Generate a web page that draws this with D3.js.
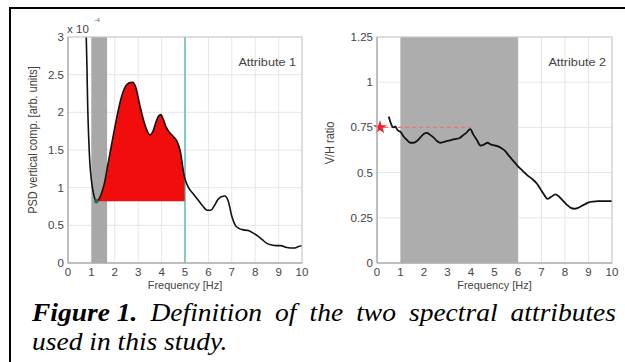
<!DOCTYPE html>
<html><head><meta charset="utf-8">
<script src="https://cdn.jsdelivr.net/npm/d3@7"></script>
<style>
html,body{margin:0;padding:0;background:#fff;}
svg{display:block;}
text.chart{font-family:"Liberation Sans",Arial,sans-serif;}
text.cap{font-family:"Liberation Serif","Times New Roman",serif;font-style:italic;}
</style></head>
<body>
<svg id="c" width="625" height="362"></svg>
<script>
// ---------- data ----------
const xTicks = [0,1,2,3,4,5,6,7,8,9,10];
const psdTicks = [0,0.5,1,1.5,2,2.5,3];
const vhTicks = [0,0.25,0.5,0.75,1,1.25];

const psdFreq = [0.74,0.78,0.81,0.84,0.88,0.93,1.0,1.07,1.14,1.21,1.3,1.4,1.55,1.7,1.85,2.0,2.15,2.3,2.45,2.6,2.75,2.9,3.05,3.2,3.35,3.5,3.62,3.75,3.87,3.97,4.08,4.2,4.35,4.5,4.65,4.8,4.97,5.15,5.35,5.55,5.75,5.95,6.1,6.25,6.4,6.55,6.7,6.85,7.0,7.15,7.3,7.5,7.7,7.9,8.1,8.3,8.5,8.7,8.9,9.1,9.3,9.5,9.7,9.85,10.0];
const psdValue = [3.4,3.0,2.6,2.1,1.7,1.35,1.1,0.95,0.86,0.82,0.84,0.9,1.05,1.3,1.55,1.8,2.03,2.22,2.34,2.39,2.40,2.33,2.12,1.93,1.78,1.70,1.74,1.86,1.95,1.97,1.90,1.80,1.73,1.68,1.62,1.48,1.15,1.0,0.92,0.84,0.76,0.70,0.70,0.76,0.84,0.88,0.89,0.82,0.62,0.50,0.46,0.44,0.43,0.40,0.36,0.31,0.26,0.24,0.23,0.23,0.21,0.20,0.20,0.22,0.23];
const psdBand = [1.0, 1.67];       // grey band, Hz
const psdMin = [1.21, 0.82];       // minimum point (freq, value)
const psdUpper = 5;                // upper frequency (cyan line)

const vhFreq = [0.5,0.57,0.63,0.7,0.78,0.85,0.92,1.0,1.13,1.28,1.42,1.55,1.7,1.85,2.0,2.13,2.25,2.4,2.55,2.7,2.85,3.0,3.15,3.3,3.5,3.65,3.8,3.97,4.1,4.25,4.4,4.55,4.7,4.85,5.0,5.15,5.3,5.45,5.6,5.8,6.0,6.2,6.4,6.6,6.8,6.95,7.1,7.25,7.4,7.6,7.8,7.95,8.1,8.25,8.4,8.55,8.7,8.85,9.0,9.2,9.4,9.6,9.8,10.0];
const vhValue = [0.81,0.78,0.76,0.75,0.755,0.74,0.73,0.725,0.70,0.68,0.665,0.665,0.675,0.695,0.715,0.72,0.71,0.695,0.675,0.665,0.67,0.675,0.68,0.685,0.69,0.705,0.72,0.74,0.71,0.68,0.65,0.655,0.665,0.655,0.65,0.645,0.635,0.62,0.595,0.565,0.535,0.51,0.485,0.465,0.44,0.41,0.38,0.355,0.365,0.38,0.36,0.34,0.32,0.305,0.30,0.305,0.315,0.325,0.335,0.34,0.342,0.342,0.342,0.342];
const vhBand = [1, 6];
const vhLevel = 0.75;
const vhLevelEnd = 4;

const captionBold = "Figure 1.";
const captionLine1 = ["Definition","of","the","two","spectral","attributes"];
const captionLine2 = "used in this study.";

// ---------- drawing ----------
const svg = d3.select("#c");
const SX = 1.1; // horizontal stretch of glyphs in the reference

svg.append("rect").attr("x",0).attr("y",0).attr("width",625).attr("height",362).attr("fill","#fff");
// outer frame
svg.append("path").attr("d","M10,362 V8 H625").attr("fill","none").attr("stroke","#000").attr("stroke-width",2);

function txt(g, x, y, s, opt){
  const t = g.append("text").attr("class","chart").attr("transform",`translate(${x},${y}) scale(${SX},1)`)
    .attr("font-size",opt.size||11).attr("fill",opt.fill||"#444")
    .attr("text-anchor",opt.anchor||"middle").text(s);
  if(opt.weight) t.attr("font-weight",opt.weight);
  return t;
}

function panel(cfg){
  const g = svg.append("g");
  const x = d3.scaleLinear().domain([0,10]).range([cfg.x0,cfg.x1]);
  const y = d3.scaleLinear().domain([0,cfg.ymax]).range([263,37]);
  const clipId = "clip"+cfg.id;
  svg.append("clipPath").attr("id",clipId).append("rect")
    .attr("x",cfg.x0).attr("y",37).attr("width",cfg.x1-cfg.x0).attr("height",226);
  // grid
  g.selectAll(".vg").data(xTicks).join("line")
    .attr("x1",d=>x(d)).attr("x2",d=>x(d)).attr("y1",37).attr("y2",263)
    .attr("stroke","#e6e6e6").attr("stroke-width",1);
  g.selectAll(".hg").data(cfg.yTicks).join("line")
    .attr("x1",cfg.x0).attr("x2",cfg.x1).attr("y1",d=>y(d)).attr("y2",d=>y(d))
    .attr("stroke","#e6e6e6").attr("stroke-width",1);
  cfg.draw(g, x, y, clipId);
  // box
  g.append("rect").attr("x",cfg.x0).attr("y",37).attr("width",cfg.x1-cfg.x0).attr("height",226)
    .attr("fill","none").attr("stroke","#c8c8c8").attr("stroke-width",1);
  g.append("path").attr("d",`M${cfg.x0},37 V263 H${cfg.x1}`).attr("fill","none").attr("stroke","#a0a0a0");
  // tick labels
  xTicks.forEach(d=>txt(g, x(d), 276, String(d), {size:10.5}));
  cfg.yTicks.forEach(d=>txt(g, cfg.x0-4, y(d)+4, String(d), {size:10.5, anchor:"end"}));
  txt(g, (cfg.x0+cfg.x1)/2, 289, "Frequency [Hz]", {size:10});
  g.append("text").attr("class","chart").attr("transform",`translate(${cfg.ylabX},${cfg.ylabY}) rotate(-90) scale(1,${SX})`)
    .attr("font-size",11).attr("fill","#444").attr("text-anchor","middle").text(cfg.ylabel);
  txt(g, cfg.x1-6, 66, cfg.title, {size:11.5, anchor:"end"});
  return {g,x,y};
}

// Left panel: PSD
panel({
  id:"L", x0:68, x1:302, ymax:3, yTicks:psdTicks,
  ylabel:"PSD vertical comp. [arb. units]", ylabX:37, ylabY:140,
  title:"Attribute 1",
  draw:(g,x,y,clipId)=>{
    g.append("rect").attr("x",x(psdBand[0])).attr("y",37)
      .attr("width",x(psdBand[1])-x(psdBand[0])).attr("height",226).attr("fill","#a8a8a8");
    const pts = psdFreq.map((f,i)=>[f,psdValue[i]]);
    const fc = "clipF";
    svg.append("clipPath").attr("id",fc).append("rect")
      .attr("x",x(psdMin[0])).attr("y",37).attr("width",x(psdUpper)-x(psdMin[0])).attr("height",226);
    g.append("g").attr("clip-path",`url(#${fc})`).append("path")
      .datum(pts)
      .attr("d",d3.area().x(d=>x(d[0])).y0(y(psdMin[1])).y1(d=>y(Math.max(d[1],psdMin[1]))).curve(d3.curveMonotoneX))
      .attr("fill","#f20d0d");
    g.append("line").attr("x1",x(psdUpper)).attr("x2",x(psdUpper)).attr("y1",37).attr("y2",263)
      .attr("stroke","#3ab0a4").attr("stroke-width",1.2);
    g.append("g").attr("clip-path",`url(#${clipId})`).append("path").datum(pts)
      .attr("d",d3.line().x(d=>x(d[0])).y(d=>y(d[1])).curve(d3.curveMonotoneX))
      .attr("fill","none").attr("stroke","#111").attr("stroke-width",1.6);
    g.append("circle").attr("cx",x(psdMin[0])).attr("cy",y(psdMin[1])).attr("r",2.2).attr("fill","#1f6b4a");
    // exponent label
    g.append("text").attr("class","chart").attr("transform",`translate(67,33) scale(${SX},1)`).attr("font-size",10.5).attr("fill","#444").text("x 10");
    g.append("text").attr("class","chart").attr("transform",`translate(94,22) scale(${SX},1)`).attr("font-size",6).attr("fill","#666").text("-4");
  }
});

// Right panel: V/H
panel({
  id:"R", x0:377, x1:612, ymax:1.25, yTicks:vhTicks,
  ylabel:"V/H ratio", ylabX:334, ylabY:143,
  title:"Attribute 2",
  draw:(g,x,y,clipId)=>{
    g.append("rect").attr("x",x(vhBand[0])).attr("y",37)
      .attr("width",x(vhBand[1])-x(vhBand[0])).attr("height",226).attr("fill","#adadad");
    const pts = vhFreq.map((f,i)=>[f,vhValue[i]]);
    g.append("line").attr("x1",x(0)).attr("x2",x(vhLevelEnd)).attr("y1",y(vhLevel)).attr("y2",y(vhLevel))
      .attr("stroke","#e07a7a").attr("stroke-width",1.2).attr("stroke-dasharray","4,3");
    g.append("path").datum(pts)
      .attr("d",d3.line().x(d=>x(d[0])).y(d=>y(d[1])).curve(d3.curveMonotoneX))
      .attr("fill","none").attr("stroke","#111").attr("stroke-width",1.8);
    g.append("path").attr("d",d3.symbol(d3.symbolStar,60)())
      .attr("transform",`translate(${x(0)+3},${y(vhLevel)})`).attr("fill","#e8262b");
  }
});

// ---------- caption ----------
const cap = svg.append("g").attr("font-size",25);
const left = 32, right = 616;
function word(x, yb, s, bold){
  const t = cap.append("text").attr("class","cap").attr("transform",`translate(${x},${yb}) scale(${SX},1)`).attr("fill","#000").text(s);
  if(bold) t.attr("font-weight","bold");
  return t;
}
// line 1 justified
const items = [{s:captionBold,b:true}].concat(captionLine1.map(s=>({s,b:false})));
const nodes = items.map(it=>word(0,321,it.s,it.b));
const widths = nodes.map(n=>n.node().getComputedTextLength()*SX);
const total = d3.sum(widths);
const gap = (right-left-total)/(items.length-1);
let cx = left;
nodes.forEach((n,i)=>{ n.attr("transform",`translate(${cx},321) scale(${SX},1)`); cx += widths[i]+gap; });
// line 2
word(left, 350, captionLine2, false);
</script>
</body></html>
